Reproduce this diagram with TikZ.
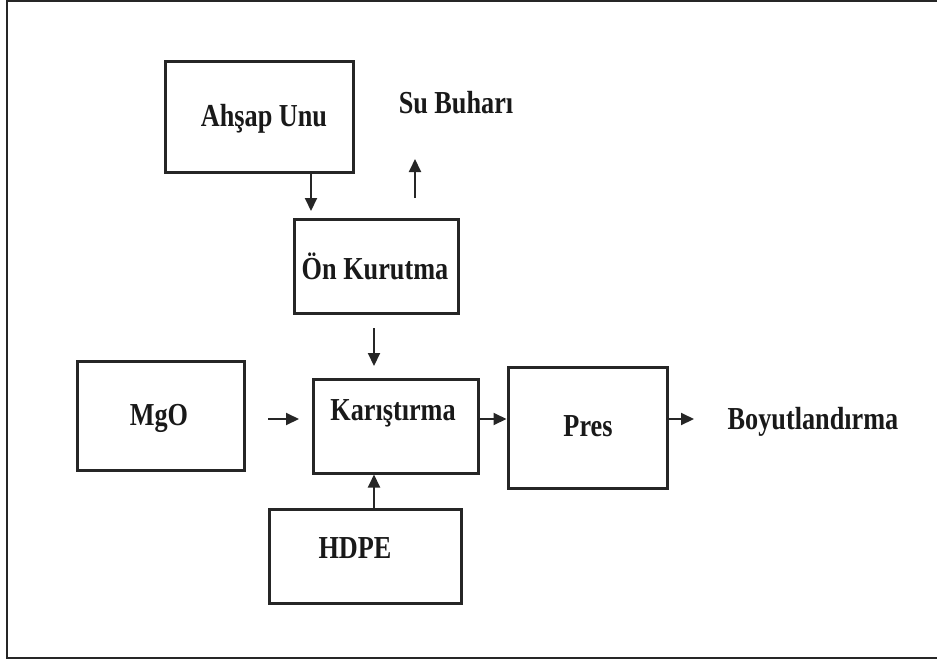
\documentclass[tikz,border=0pt]{standalone}
\usepackage{fontspec}
\setmainfont{Liberation Serif}[FakeStretch=0.82]
\usetikzlibrary{arrows.meta}
\begin{document}
\begin{tikzpicture}[x=1pt,y=-1pt,
  boxnode/.style={draw=black!85,line width=3pt,rectangle,inner sep=0pt},
  lbl/.style={anchor=base,inner sep=0pt,font=\fontsize{32}{36}\selectfont\bfseries,text=black!90},
  arr/.style={line width=2pt,black!85,-{Triangle[length=13pt,width=12pt]}}]
\useasboundingbox (0,0) rectangle (937,662);
% outer frame (no right edge visible)
\draw[line width=2pt,black!85] (937,1) -- (7,1) -- (7,658) -- (937,658);
% boxes
\node[boxnode,minimum width=188pt,minimum height=111pt] (ahsap) at (259,116.5) {};
\node[boxnode,minimum width=164pt,minimum height=94pt] (onk) at (376,266) {};
\node[boxnode,minimum width=167pt,minimum height=109pt] (mgo) at (160.5,415.5) {};
\node[boxnode,minimum width=165pt,minimum height=94pt] (kar) at (395.5,426) {};
\node[boxnode,minimum width=159pt,minimum height=121pt] (pres) at (587.5,427.5) {};
\node[boxnode,minimum width=192pt,minimum height=94pt] (hdpe) at (365,556) {};
% labels
\node[lbl] (tahsap) at (264,126) {Ahşap Unu};
\node[lbl] (tsu) at (456,113) {Su Buharı};
\node[lbl] (tonk) at (375,279) {Ön Kurutma};
\node[lbl] (tmgo) at (159,425) {MgO};
\node[lbl] (tkar) at (393,420) {Karıştırma};
\node[lbl] (tpres) at (588,436) {Pres};
\node[lbl] (tboy) at (813,429) {Boyutlandırma};
\node[lbl] (thdpe) at (355,558) {HDPE};
% arrows
\coordinate (a1e) at (311,211);
\coordinate (s1) at (415,198);
\coordinate (s2) at (415,159);
\coordinate (k1s) at (374,328);
\coordinate (k1e) at (374,366);
\coordinate (m1s) at (268,419);
\coordinate (m1e) at (299,419);
\coordinate (p1e) at (694,419);
\draw[arr] (ahsap.south -| a1e) -- (a1e);
\draw[arr] (s1) -- (s2);
\draw[arr] (k1s) -- (k1e);
\draw[arr] (m1s) -- (m1e);
\draw[arr] (kar.east |- m1s) -- (pres.west |- m1s);
\draw[arr] (pres.east |- p1e) -- (p1e);
\draw[arr] (hdpe.north -| k1s) -- (kar.south -| k1s);
\end{tikzpicture}
\end{document}
